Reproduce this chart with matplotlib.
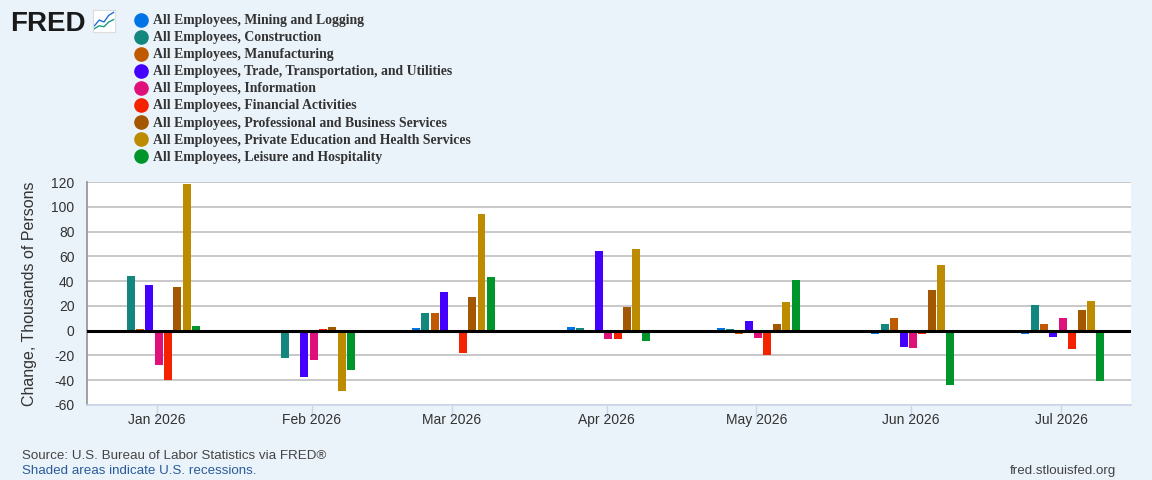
import matplotlib
matplotlib.use('Agg')
import matplotlib.pyplot as plt
import matplotlib.dates as mdates
from matplotlib.lines import Line2D
import datetime as dt

# Month-over-month change, thousands of persons
months = ['2026-01-01', '2026-02-01', '2026-03-01', '2026-04-01',
          '2026-05-01', '2026-06-01', '2026-07-01']
month_labels = ['Jan 2026', 'Feb 2026', 'Mar 2026', 'Apr 2026',
                'May 2026', 'Jun 2026', 'Jul 2026']

series_names = [
    'All Employees, Mining and Logging',
    'All Employees, Construction',
    'All Employees, Manufacturing',
    'All Employees, Trade, Transportation, and Utilities',
    'All Employees, Information',
    'All Employees, Financial Activities',
    'All Employees, Professional and Business Services',
    'All Employees, Private Education and Health Services',
    'All Employees, Leisure and Hospitality',
]
series_colors = ['#0073e6', '#12877e', '#c05a00', '#4400ff', '#e0107a',
                 '#f52200', '#a35700', '#bd8b00', '#00952b']

mining = [-2, -1, 2, 3, 2, -3, -3]
construction = [44, -22, 14, 2, 1, 5, 21]
manufacturing = [1, 0, 14, -2, -3, 10, 5]
trade = [37, -37, 31, 64, 8, -13, -5]
information = [-28, -24, 0, -7, -6, -14, 10]
financial = [-40, 1, -18, -7, -20, -3, -15]
professional = [35, 3, 27, 19, 5, 33, 17]
education = [118, -49, 94, 66, 23, 53, 24]
leisure = [4, -32, 43, -8, 41, -44, -41]

all_series = [mining, construction, manufacturing, trade, information,
              financial, professional, education, leisure]

y_ticks = [-60, -40, -20, 0, 20, 40, 60, 80, 100, 120]

bg = '#eaf2fa'
text_col = '#333333'

fig = plt.figure(figsize=(11.52, 4.8), dpi=100, facecolor=bg)
ax = fig.add_axes([87 / 1152, 1 - 405 / 480, (1131 - 87) / 1152, (405 - 182) / 480])
ax.set_facecolor('white')

x_base = mdates.date2num([dt.datetime.strptime(m, '%Y-%m-%d') for m in months])
step = 1.875
for i, (vals, col) in enumerate(zip(all_series, series_colors)):
    ax.bar(x_base + (i - 4) * step + 0.35, vals, width=1.6, color=col,
           linewidth=0, zorder=3)

ax.axhline(0, color='black', linewidth=2.2, zorder=4)

ax.set_ylim(-60, 120)
ax.set_yticks(y_ticks)
ax.set_yticklabels([str(v) for v in y_ticks])
ax.yaxis.grid(True, color='#c4c4c4', linewidth=1.3, zorder=0)
ax.set_axisbelow(True)

x_left = mdates.date2num(dt.datetime(2025, 12, 18))
x_right = mdates.date2num(dt.datetime(2026, 7, 15))
ax.set_xlim(x_left, x_right)
ax.set_xticks(x_base)
ax.set_xticklabels(month_labels)

for s in ['top', 'right']:
    ax.spines[s].set_visible(False)
ax.spines['left'].set_color('#999999')
ax.spines['left'].set_linewidth(1.3)
ax.spines['bottom'].set_color('#ccd6eb')
ax.spines['bottom'].set_linewidth(1.2)

ax.tick_params(axis='y', length=0, labelsize=10, labelcolor=text_col, pad=9)
ax.tick_params(axis='x', length=10, color='#ccd6eb', width=1,
               labelsize=10, labelcolor=text_col, pad=-4)
for lab in ax.get_xticklabels() + ax.get_yticklabels():
    lab.set_family('Liberation Sans')

ax.set_ylabel('Change, Thousands of Persons', fontsize=11.5, color=text_col,
              family='Liberation Sans', labelpad=10)

# legend, drawn row by row
for i, (name, col) in enumerate(zip(series_names, series_colors)):
    y = 1 - (20.5 + i * 17.1) / 480
    fig.add_artist(Line2D([141 / 1152], [y + 1 / 480], marker='o', markersize=9.5,
                          color=col, linestyle='none', transform=fig.transFigure))
    fig.text(153 / 1152, y, name, fontsize=9.9, fontweight='bold',
             family='Liberation Serif', color=text_col, va='center', ha='left')

# FRED logo
fig.text(10 / 1152, 1 - 31 / 480, 'FRED', fontsize=20, fontweight='heavy',
         family='Liberation Sans', color='#1a1a1a', va='baseline')
icon = fig.add_axes([93 / 1152, 1 - 32 / 480, 22 / 1152, 22 / 480])
icon.set_facecolor('white')
icon.plot([0, 1, 2, 3, 4], [1, 2.2, 1.8, 3.2, 3.8], color='#1e6fd9', lw=1)
icon.plot([0, 1, 2, 3, 4], [0.4, 1.0, 0.8, 1.8, 2.3], color='#1a9a7a', lw=1)
icon.set_xlim(-0.3, 4.3)
icon.set_ylim(-0.3, 4.3)
icon.set_xticks([])
icon.set_yticks([])
for s in icon.spines.values():
    s.set_color('#dddddd')

fig.text(22 / 1152, 1 - 459 / 480, 'Source: U.S. Bureau of Labor Statistics via FRED\u00ae',
         fontsize=9.6, family='Liberation Sans', color='#444444', va='baseline')
fig.text(22 / 1152, 1 - 474 / 480, 'Shaded areas indicate U.S. recessions.',
         fontsize=9.6, family='Liberation Sans', color='#2a5c9a', va='baseline')
fig.text(1116 / 1152, 1 - 474 / 480, 'fred.stlouisfed.org', fontsize=9.6,
         family='Liberation Sans', color='#444444', va='baseline', ha='right')

fig.savefig('out.png', dpi=100, facecolor=bg)
